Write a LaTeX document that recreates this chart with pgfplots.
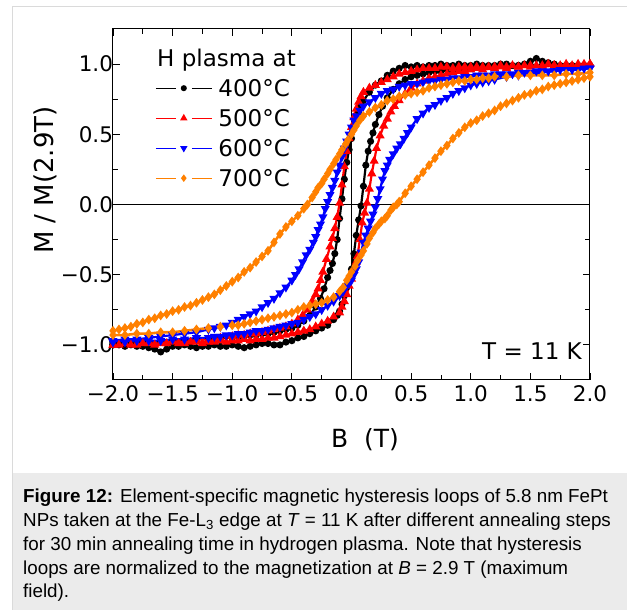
\documentclass[border=0pt]{standalone}
\usepackage{fontspec}
\setmainfont{DejaVu Sans}
\newfontfamily\capfont{Liberation Sans}
\usepackage{pgfplots}
\pgfplotsset{compat=1.18}
\definecolor{myorange}{RGB}{255,128,0}
\definecolor{framegray}{RGB}{218,218,218}
\definecolor{capgray}{RGB}{235,235,235}

\begin{document}
\begin{tikzpicture}[x=1pt,y=1pt]
\useasboundingbox (0,0) rectangle (627,610);
\fill[capgray] (12,0) rectangle (627,137);
\draw[framegray, line width=1pt] (12,0) -- (12,603) -- (627,603);
\begin{axis}[
  at={(113pt,230pt)}, anchor=south west,
  scale only axis, width=477pt, height=351pt,
  xmin=-2, xmax=2, ymin=-1.25, ymax=1.25,
  clip=false,
  axis line style={line width=1pt},
  tick align=inside,
  xtick={-2,-1.5,-1,-0.5,0,0.5,1,1.5,2},
  xticklabels={−2.0,−1.5,−1.0,−0.5,0.0,0.5,1.0,1.5,2.0},
  minor xtick={-1.75,-1.25,-0.75,-0.25,0.25,0.75,1.25,1.75},
  ytick={-1,-0.5,0,0.5,1},
  yticklabels={−1.0,−0.5,0.0,0.5,1.0},
  minor ytick={-0.75,-0.25,0.25,0.75},
  major tick length=7pt, minor tick length=5pt,
  every tick/.style={black, line width=0.8pt},
  tick label style={font=\fontsize{21.5}{24}\selectfont},
  xticklabel style={yshift=-2pt},
  yticklabel style={xshift=3.5pt},
  legend image code/.code={\draw[mark repeat=2,mark phase=2,#1,line width=1.2pt,dash pattern=on 20pt off 16pt] plot coordinates {(0pt,0pt) (28pt,0pt) (56pt,0pt)};},
  legend cell align=left,
  legend style={draw=none, fill=none, at={(rel axis cs:0,1)}, anchor=north west,
    xshift=42pt, yshift=-44pt, inner sep=0pt, column sep=6pt,
    font=\fontsize{23}{27}\selectfont,
    nodes={inner xsep=0pt, inner ysep=6.5pt, text height=17pt, text depth=0pt}},
]
\addplot[forget plot, black, line width=1pt] coordinates {(-2,0)(2,0)};
\addplot[forget plot, black, line width=1pt] coordinates {(0,-1.25)(0,1.25)};

% 400 C
\addplot[black, line width=2.2pt, mark=*, mark size=2.4pt, mark options={solid}] coordinates {
(2.0,0.99)(1.95,0.99)(1.9,0.98)(1.85,0.99)(1.8,0.99)(1.75,0.99)(1.7,1.00)(1.65,1.01)(1.6,1.02)(1.55,1.04)(1.5,1.02)(1.45,1.00)(1.4,0.99)(1.35,0.99)(1.3,1.00)(1.25,1.00)(1.2,0.99)(1.15,0.99)(1.1,0.99)(1.05,1.00)(1.0,0.99)(0.95,0.99)(0.9,1.00)(0.85,0.99)(0.8,0.99)(0.75,1.00)(0.7,0.99)(0.65,0.99)(0.6,0.98)(0.55,0.99)(0.5,0.98)(0.45,0.99)(0.4,0.97)(0.35,0.95)(0.3,0.92)(0.25,0.88)(0.2,0.85)(0.15,0.80)(0.1,0.74)(0.08,0.70)(0.06,0.66)(0.04,0.61)(0.02,0.55)(0.0,0.47)(-0.02,0.39)(-0.04,0.30)(-0.06,0.18)(-0.08,0.04)(-0.10,-0.10)(-0.12,-0.25)(-0.14,-0.35)(-0.16,-0.42)(-0.18,-0.47)(-0.20,-0.52)(-0.23,-0.60)(-0.26,-0.67)(-0.30,-0.73)(-0.35,-0.79)(-0.40,-0.83)(-0.45,-0.86)(-0.5,-0.88)(-0.55,-0.89)(-0.6,-0.90)(-0.65,-0.91)(-0.7,-0.92)(-0.75,-0.92)(-0.8,-0.93)(-0.85,-0.93)(-0.9,-0.94)(-0.95,-0.94)(-1.0,-0.95)(-1.1,-0.95)(-1.2,-0.96)(-1.3,-0.96)(-1.4,-0.97)(-1.5,-0.97)(-1.6,-0.98)(-1.7,-0.98)(-1.8,-0.99)(-1.9,-0.99)(-2.0,-1.00)
(-2.0,-1.00)(-1.95,-1.00)(-1.9,-1.01)(-1.85,-1.00)(-1.8,-1.01)(-1.75,-1.01)(-1.7,-1.02)(-1.65,-1.03)(-1.6,-1.05)(-1.55,-1.03)(-1.5,-1.01)(-1.45,-1.01)(-1.4,-1.00)(-1.35,-1.01)(-1.3,-1.02)(-1.25,-1.01)(-1.2,-1.01)(-1.15,-1.00)(-1.1,-1.01)(-1.05,-1.01)(-1.0,-1.00)(-0.95,-1.01)(-0.9,-1.02)(-0.85,-1.01)(-0.8,-1.00)(-0.75,-0.99)(-0.7,-0.99)(-0.65,-1.00)(-0.6,-1.00)(-0.55,-0.98)(-0.5,-0.97)(-0.45,-0.95)(-0.4,-0.94)(-0.35,-0.92)(-0.3,-0.90)(-0.25,-0.88)(-0.2,-0.86)(-0.15,-0.82)(-0.12,-0.79)(-0.1,-0.76)(-0.08,-0.71)(-0.06,-0.65)(-0.04,-0.59)(-0.02,-0.53)(0.0,-0.46)(0.02,-0.35)(0.04,-0.22)(0.06,-0.11)(0.08,-0.01)(0.10,0.13)(0.12,0.28)(0.14,0.38)(0.16,0.45)(0.18,0.51)(0.20,0.57)(0.23,0.64)(0.26,0.70)(0.30,0.76)(0.35,0.82)(0.40,0.86)(0.45,0.89)(0.5,0.91)(0.55,0.92)(0.6,0.93)(0.65,0.94)(0.7,0.95)(0.75,0.95)(0.8,0.96)(0.85,0.96)(0.9,0.97)(0.95,0.97)(1.0,0.97)(1.1,0.98)(1.2,0.98)(1.3,0.98)(1.4,0.99)(1.5,0.99)(1.6,0.99)(1.7,0.99)(1.8,0.99)(1.9,0.99)(2.0,0.99)
};
% 500 C
\addplot[red, line width=2.2pt, mark=triangle*, mark size=3.1pt, mark options={solid}] coordinates {
(2.0,1.00)(1.95,1.00)(1.9,1.00)(1.85,0.99)(1.8,1.00)(1.75,0.99)(1.7,0.99)(1.65,1.00)(1.6,0.99)(1.55,0.99)(1.5,0.99)(1.45,0.99)(1.4,0.98)(1.35,0.99)(1.3,0.98)(1.25,0.99)(1.2,0.98)(1.15,0.98)(1.1,0.98)(1.05,0.98)(1.0,0.98)(0.95,0.98)(0.9,0.98)(0.85,0.97)(0.8,0.98)(0.75,0.98)(0.7,0.97)(0.65,0.97)(0.6,0.97)(0.55,0.96)(0.5,0.95)(0.45,0.94)(0.4,0.93)(0.35,0.91)(0.3,0.89)(0.25,0.87)(0.2,0.85)(0.15,0.83)(0.1,0.80)(0.08,0.77)(0.06,0.73)(0.04,0.68)(0.02,0.62)(0.0,0.55)(-0.02,0.47)(-0.04,0.38)(-0.06,0.27)(-0.08,0.14)(-0.10,0.01)(-0.12,-0.09)(-0.14,-0.17)(-0.16,-0.24)(-0.18,-0.30)(-0.21,-0.39)(-0.24,-0.48)(-0.26,-0.54)(-0.28,-0.60)(-0.30,-0.64)(-0.33,-0.69)(-0.37,-0.75)(-0.41,-0.79)(-0.45,-0.82)(-0.5,-0.85)(-0.55,-0.87)(-0.6,-0.88)(-0.65,-0.89)(-0.7,-0.90)(-0.75,-0.91)(-0.8,-0.92)(-0.85,-0.92)(-0.9,-0.93)(-0.95,-0.93)(-1.0,-0.94)(-1.1,-0.95)(-1.2,-0.96)(-1.3,-0.96)(-1.4,-0.97)(-1.5,-0.97)(-1.6,-0.98)(-1.7,-0.98)(-1.8,-0.99)(-1.9,-0.99)(-2.0,-1.00)
(-2.0,-1.00)(-1.95,-1.00)(-1.9,-0.99)(-1.85,-1.00)(-1.8,-1.00)(-1.75,-0.99)(-1.7,-0.99)(-1.65,-1.00)(-1.6,-0.99)(-1.55,-0.99)(-1.5,-0.98)(-1.45,-0.99)(-1.4,-0.99)(-1.35,-0.98)(-1.3,-0.98)(-1.25,-0.99)(-1.2,-0.98)(-1.15,-0.98)(-1.1,-0.97)(-1.05,-0.98)(-1.0,-0.97)(-0.95,-0.97)(-0.9,-0.96)(-0.85,-0.97)(-0.8,-0.96)(-0.75,-0.96)(-0.7,-0.95)(-0.65,-0.95)(-0.6,-0.94)(-0.55,-0.93)(-0.5,-0.92)(-0.45,-0.91)(-0.4,-0.90)(-0.35,-0.89)(-0.3,-0.87)(-0.25,-0.85)(-0.2,-0.83)(-0.15,-0.80)(-0.1,-0.77)(-0.08,-0.73)(-0.06,-0.69)(-0.04,-0.64)(-0.02,-0.58)(0.0,-0.53)(0.02,-0.47)(0.04,-0.41)(0.05,-0.37)(0.07,-0.25)(0.09,-0.13)(0.11,-0.06)(0.13,0.01)(0.15,0.11)(0.17,0.22)(0.19,0.31)(0.21,0.40)(0.24,0.49)(0.27,0.56)(0.30,0.61)(0.33,0.66)(0.36,0.70)(0.40,0.74)(0.45,0.79)(0.5,0.83)(0.55,0.86)(0.6,0.88)(0.65,0.90)(0.7,0.91)(0.75,0.92)(0.8,0.93)(0.85,0.94)(0.9,0.95)(0.95,0.95)(1.0,0.96)(1.1,0.96)(1.2,0.97)(1.3,0.97)(1.4,0.98)(1.5,0.98)(1.6,0.98)(1.7,0.99)(1.8,0.99)(1.9,0.99)(2.0,1.00)
};
% 600 C
\addplot[blue, line width=2.2pt, mark=triangle*, mark size=3.1pt, mark options={solid, rotate=180}] coordinates {
(2.0,0.97)(1.95,0.97)(1.9,0.96)(1.85,0.96)(1.8,0.96)(1.75,0.96)(1.7,0.95)(1.65,0.95)(1.6,0.95)(1.55,0.95)(1.5,0.94)(1.45,0.94)(1.4,0.94)(1.35,0.93)(1.3,0.93)(1.25,0.93)(1.2,0.93)(1.15,0.92)(1.1,0.92)(1.05,0.92)(1.0,0.91)(0.95,0.91)(0.9,0.90)(0.85,0.90)(0.8,0.89)(0.75,0.89)(0.7,0.88)(0.65,0.88)(0.6,0.87)(0.55,0.86)(0.5,0.86)(0.45,0.85)(0.4,0.84)(0.35,0.82)(0.3,0.81)(0.25,0.79)(0.2,0.76)(0.15,0.73)(0.1,0.70)(0.07,0.67)(0.04,0.63)(0.02,0.60)(0.0,0.55)(-0.02,0.50)(-0.04,0.45)(-0.06,0.40)(-0.08,0.34)(-0.10,0.28)(-0.12,0.23)(-0.14,0.17)(-0.16,0.12)(-0.18,0.07)(-0.20,0.02)(-0.22,-0.03)(-0.24,-0.09)(-0.26,-0.14)(-0.28,-0.18)(-0.30,-0.23)(-0.32,-0.27)(-0.35,-0.32)(-0.38,-0.36)(-0.41,-0.41)(-0.44,-0.46)(-0.47,-0.50)(-0.5,-0.54)(-0.55,-0.59)(-0.6,-0.63)(-0.65,-0.67)(-0.7,-0.70)(-0.75,-0.73)(-0.8,-0.76)(-0.85,-0.78)(-0.9,-0.80)(-0.95,-0.82)(-1.0,-0.84)(-1.05,-0.86)(-1.1,-0.87)(-1.15,-0.88)(-1.2,-0.89)(-1.3,-0.91)(-1.4,-0.92)(-1.5,-0.93)(-1.6,-0.94)(-1.7,-0.95)(-1.8,-0.96)(-1.9,-0.96)(-2.0,-0.97)
(-2.0,-0.98)(-1.9,-0.98)(-1.8,-0.97)(-1.7,-0.97)(-1.6,-0.97)(-1.5,-0.96)(-1.4,-0.96)(-1.3,-0.95)(-1.2,-0.95)(-1.15,-0.94)(-1.1,-0.94)(-1.05,-0.93)(-1.0,-0.93)(-0.95,-0.92)(-0.9,-0.92)(-0.85,-0.91)(-0.8,-0.90)(-0.75,-0.90)(-0.7,-0.89)(-0.65,-0.88)(-0.6,-0.87)(-0.55,-0.86)(-0.5,-0.85)(-0.45,-0.84)(-0.4,-0.82)(-0.35,-0.80)(-0.3,-0.78)(-0.25,-0.75)(-0.2,-0.72)(-0.15,-0.69)(-0.1,-0.65)(-0.07,-0.62)(-0.04,-0.58)(-0.02,-0.56)(0.0,-0.54)(0.02,-0.50)(0.04,-0.46)(0.06,-0.41)(0.08,-0.34)(0.10,-0.27)(0.12,-0.22)(0.14,-0.17)(0.16,-0.12)(0.18,-0.07)(0.20,-0.02)(0.22,0.04)(0.24,0.11)(0.26,0.18)(0.28,0.24)(0.30,0.28)(0.32,0.32)(0.35,0.36)(0.38,0.40)(0.41,0.43)(0.44,0.47)(0.47,0.51)(0.5,0.55)(0.55,0.61)(0.6,0.65)(0.65,0.69)(0.7,0.71)(0.75,0.74)(0.8,0.76)(0.85,0.79)(0.9,0.81)(0.95,0.83)(1.0,0.85)(1.05,0.86)(1.1,0.87)(1.15,0.88)(1.2,0.89)(1.3,0.91)(1.4,0.92)(1.5,0.93)(1.6,0.94)(1.7,0.95)(1.8,0.96)(1.9,0.96)(2.0,0.97)
};
% 700 C
\addplot[myorange, line width=2.6pt, mark=diamond*, mark size=2.8pt, mark options={solid}] coordinates {
(2.0,0.94)(1.9,0.93)(1.8,0.93)(1.7,0.92)(1.6,0.92)(1.5,0.92)(1.4,0.92)(1.3,0.91)(1.2,0.91)(1.15,0.90)(1.1,0.90)(1.05,0.89)(1.0,0.89)(0.95,0.88)(0.9,0.88)(0.85,0.87)(0.8,0.86)(0.75,0.85)(0.7,0.84)(0.65,0.83)(0.6,0.81)(0.55,0.80)(0.5,0.79)(0.45,0.78)(0.4,0.77)(0.35,0.75)(0.3,0.74)(0.25,0.71)(0.2,0.69)(0.15,0.66)(0.1,0.63)(0.07,0.60)(0.04,0.56)(0.02,0.53)(0.0,0.50)(-0.03,0.46)(-0.05,0.43)(-0.08,0.39)(-0.1,0.36)(-0.13,0.32)(-0.15,0.29)(-0.18,0.25)(-0.2,0.22)(-0.23,0.18)(-0.25,0.15)(-0.28,0.12)(-0.3,0.09)(-0.33,0.05)(-0.37,0.00)(-0.4,-0.03)(-0.45,-0.08)(-0.5,-0.12)(-0.55,-0.16)(-0.6,-0.21)(-0.65,-0.27)(-0.7,-0.33)(-0.75,-0.37)(-0.8,-0.41)(-0.85,-0.45)(-0.9,-0.48)(-0.95,-0.52)(-1.0,-0.55)(-1.05,-0.58)(-1.1,-0.61)(-1.15,-0.64)(-1.2,-0.66)(-1.25,-0.68)(-1.3,-0.70)(-1.35,-0.72)(-1.4,-0.73)(-1.45,-0.75)(-1.5,-0.76)(-1.55,-0.78)(-1.6,-0.79)(-1.65,-0.81)(-1.7,-0.82)(-1.75,-0.84)(-1.8,-0.85)(-1.85,-0.87)(-1.9,-0.88)(-1.95,-0.89)(-2.0,-0.90)
(-2.0,-0.93)(-1.9,-0.93)(-1.8,-0.92)(-1.7,-0.92)(-1.6,-0.91)(-1.5,-0.91)(-1.4,-0.90)(-1.3,-0.89)(-1.2,-0.88)(-1.1,-0.87)(-1.0,-0.86)(-0.95,-0.86)(-0.9,-0.85)(-0.85,-0.84)(-0.8,-0.83)(-0.75,-0.82)(-0.7,-0.81)(-0.65,-0.80)(-0.6,-0.79)(-0.55,-0.78)(-0.5,-0.77)(-0.45,-0.75)(-0.4,-0.73)(-0.35,-0.72)(-0.3,-0.71)(-0.25,-0.70)(-0.2,-0.68)(-0.15,-0.66)(-0.1,-0.62)(-0.07,-0.59)(-0.04,-0.54)(-0.02,-0.51)(0.0,-0.48)(0.03,-0.44)(0.05,-0.40)(0.08,-0.36)(0.1,-0.33)(0.13,-0.28)(0.15,-0.24)(0.18,-0.20)(0.2,-0.17)(0.23,-0.14)(0.25,-0.12)(0.28,-0.10)(0.3,-0.08)(0.33,-0.04)(0.35,-0.02)(0.38,0.00)(0.4,0.02)(0.45,0.08)(0.5,0.13)(0.55,0.18)(0.6,0.23)(0.65,0.28)(0.7,0.33)(0.75,0.38)(0.8,0.42)(0.85,0.47)(0.9,0.51)(0.95,0.55)(1.0,0.58)(1.05,0.60)(1.1,0.63)(1.15,0.65)(1.2,0.67)(1.25,0.70)(1.3,0.72)(1.35,0.74)(1.4,0.76)(1.45,0.78)(1.5,0.79)(1.55,0.81)(1.6,0.82)(1.65,0.84)(1.7,0.85)(1.75,0.86)(1.8,0.87)(1.85,0.88)(1.9,0.89)(1.95,0.90)(2.0,0.91)
};
\legend{400°C,500°C,600°C,700°C}
\end{axis}
\node[anchor=west, inner sep=0pt, font=\fontsize{23}{27}\selectfont] at (157,550) {H plasma at};
\node[anchor=base east, inner sep=0pt, font=\fontsize{23}{27}\selectfont] at (582,250) {T = 11 K};
\node[anchor=base, inner sep=0pt, font=\fontsize{25}{30}\selectfont] at (365,162) {B\ \ (T)};
\node[anchor=base, rotate=90, inner sep=0pt, font=\fontsize{26}{30}\selectfont] at (53,430) {M / M(2.9T)};
\begin{scope}[every node/.style={anchor=base west, inner sep=0pt, font=\capfont\fontsize{18.8}{23}\selectfont}]
\node at (23,107) {\textbf{Figure 12:} Element-specific magnetic hysteresis loops of 5.8 nm FePt};
\node at (23,83.3) {NPs taken at the Fe-L\textsubscript{3} edge at \textit{T} = 11 K after different annealing steps};
\node at (23,59.6) {for 30 min annealing time in hydrogen plasma. Note that hysteresis};
\node at (23,35.9) {loops are normalized to the magnetization at \textit{B} = 2.9 T (maximum};
\node at (23,12.2) {field).};
\end{scope}
\end{tikzpicture}
\end{document}
